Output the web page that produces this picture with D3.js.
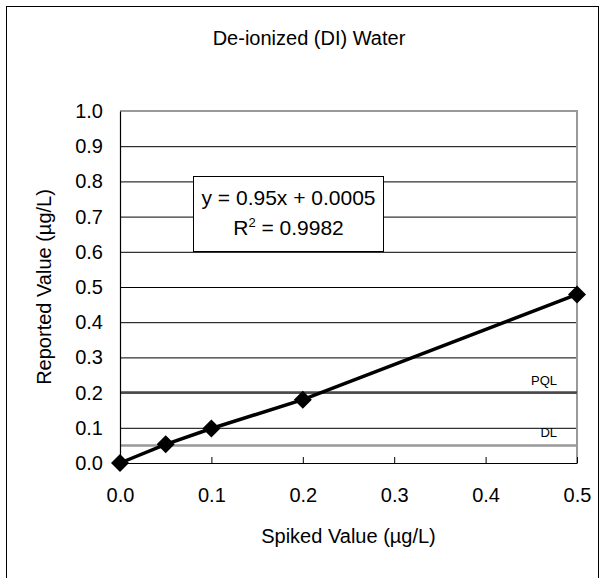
<!DOCTYPE html>
<html>
<head>
<meta charset="utf-8">
<script src="https://cdn.jsdelivr.net/npm/d3@7"></script>
<style>
  html, body { margin: 0; padding: 0; background: #fff; }
  svg { display: block; font-family: "Liberation Sans", Arial, sans-serif; }
</style>
</head>
<body>
<svg id="chart" width="606" height="578"></svg>
<script>
// ---- data ----
const spiked = [0, 0.05, 0.1, 0.2, 0.5];
const reported = [0, 0.053, 0.098, 0.18, 0.479];
const xTicks = [0, 0.1, 0.2, 0.3, 0.4, 0.5];
const yTicks = [0, 0.1, 0.2, 0.3, 0.4, 0.5, 0.6, 0.7, 0.8, 0.9, 1.0];
const refLines = [{ name: "PQL", value: 0.2 }, { name: "DL", value: 0.05 }];
const titleText = "De-ionized (DI) Water";
const xTitle = "Spiked Value (\u00b5g/L)";
const yTitle = "Reported Value (\u00b5g/L)";
const eqLine1 = "y = 0.95x + 0.0005";
const eqR2 = "0.9982";

const svg = d3.select("#chart");
const L = 120, R = 577, T = 111, B = 463;
const x = d3.scaleLinear().domain([0, 0.5]).range([L, R]);
const y = d3.scaleLinear().domain([0, 1]).range([B, T]);

// outer chart border
svg.append("rect").attr("x", 6.5).attr("y", 6.5).attr("width", 592).attr("height", 600)
  .attr("fill", "none").attr("stroke", "#000").attr("stroke-width", 1);

// title
svg.append("text").attr("x", 309).attr("y", 45).attr("text-anchor", "middle")
  .attr("font-size", 20).attr("fill", "#000").text(titleText);

// gridlines
const grid = svg.append("g").attr("transform", `translate(${L},0)`)
  .call(d3.axisLeft(y).tickValues(yTicks.filter(v => v > 0 && v < 1)).tickSize(-(R - L)).tickFormat(""));
grid.select(".domain").remove();
grid.selectAll("line").attr("stroke", "#000").attr("stroke-width", 1);

// plot border top/right (gray)
svg.append("path").attr("d", `M${L},${T}H${R}V${B}`).attr("fill", "none")
  .attr("stroke", "#999").attr("stroke-width", 2);

// reference lines
svg.selectAll(".ref").data(refLines).enter().append("line")
  .attr("x1", L).attr("x2", R)
  .attr("y1", d => y(d.value)).attr("y2", d => y(d.value))
  .attr("stroke", d => d.name === "PQL" ? "#4a4a4a" : "#999")
  .attr("stroke-width", 2.5);
svg.selectAll(".reflab").data(refLines).enter().append("text")
  .attr("x", 557).attr("y", d => y(d.value) - 8)
  .attr("text-anchor", "end").attr("font-size", 13).attr("fill", "#000")
  .text(d => d.name);

// x axis
const xAxis = svg.append("g").attr("transform", `translate(0,${B})`)
  .call(d3.axisBottom(x).tickValues(xTicks).tickSizeInner(-6).tickSizeOuter(0).tickPadding(25).tickFormat(d3.format(".1f")));
xAxis.select(".domain").attr("stroke", "#000").attr("stroke-width", 1);
xAxis.selectAll("line").attr("stroke", "#000");
xAxis.selectAll("text").attr("font-size", 20).attr("fill", "#000")
  .attr("font-family", "Liberation Sans, Arial, sans-serif");

// y axis
const yAxis = svg.append("g").attr("transform", `translate(${L},0)`)
  .call(d3.axisLeft(y).tickValues(yTicks).tickSize(0).tickPadding(17).tickFormat(d3.format(".1f")));
yAxis.select(".domain").attr("stroke", "#000").attr("stroke-width", 1.2);
yAxis.selectAll("text").attr("font-size", 20).attr("fill", "#000")
  .attr("font-family", "Liberation Sans, Arial, sans-serif");

// axis titles
svg.append("text").attr("x", (L + R) / 2).attr("y", 543).attr("text-anchor", "middle")
  .attr("font-size", 20).attr("fill", "#000").text(xTitle);
svg.append("text").attr("transform", `translate(51,${(T + B) / 2}) rotate(-90)`)
  .attr("text-anchor", "middle").attr("font-size", 20).attr("fill", "#000").text(yTitle);

// data line
const pts = spiked.map((v, i) => [v, reported[i]]);
svg.append("path").datum(pts)
  .attr("d", d3.line().x(d => x(d[0])).y(d => y(d[1])))
  .attr("fill", "none").attr("stroke", "#000").attr("stroke-width", 3.5);

// markers
svg.selectAll(".pt").data(pts).enter().append("path")
  .attr("transform", d => `translate(${x(d[0])},${y(d[1])})`)
  .attr("d", "M0,-9L9,0L0,9L-9,0Z").attr("fill", "#000");

// equation box
svg.append("rect").attr("x", 193.5).attr("y", 176.5).attr("width", 190).attr("height", 75)
  .attr("fill", "#fff").attr("stroke", "#000").attr("stroke-width", 1);
svg.append("text").attr("x", 288.5).attr("y", 205).attr("text-anchor", "middle")
  .attr("font-size", 21).attr("fill", "#000").text(eqLine1);
const t2 = svg.append("text").attr("x", 288.5).attr("y", 235).attr("text-anchor", "middle")
  .attr("font-size", 21).attr("fill", "#000");
t2.append("tspan").text("R");
t2.append("tspan").attr("font-size", 13).attr("dy", -8).text("2");
t2.append("tspan").attr("dy", 8).text(" = " + eqR2);
</script>
</body>
</html>
